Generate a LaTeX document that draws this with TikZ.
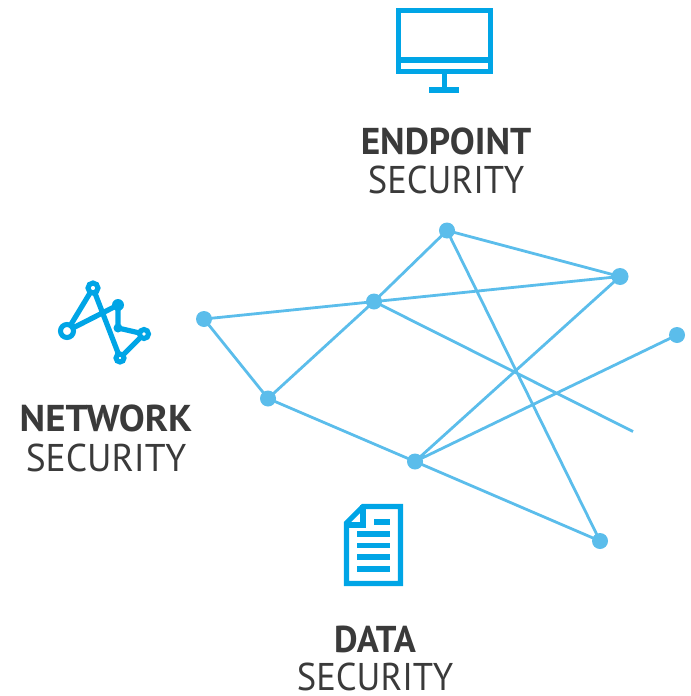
\documentclass[tikz,border=0pt]{standalone}
\usepackage{fontspec}
\setmainfont{PT Sans}
\definecolor{net}{HTML}{5BBDEB}
\definecolor{icon}{HTML}{00A5E6}
\definecolor{ink}{HTML}{3A3A3A}
\tikzset{
  dot/.style={circle,fill=net,inner sep=0pt,minimum size=#1},
  link/.style={draw=net,line width=2.1pt},
  iconline/.style={draw=icon,line width=3.9pt},
  ring/.style={circle,draw=icon,fill=white,line width=3.8pt,inner sep=0pt,minimum size=#1},
  solid dot/.style={circle,fill=icon,inner sep=0pt,minimum size=#1},
  heavy/.style={text=ink,inner sep=0pt,font=\fontsize{28}{28}\selectfont\bfseries},
  light/.style={text=ink,inner sep=0pt,font=\fontsize{29}{29}\selectfont},
}
\begin{document}
\begin{tikzpicture}[x=0.75pt,y=-0.75pt]
\useasboundingbox (0,0) rectangle (690,696);
% network
\node[dot=16*0.75pt] (a) at (447,230.5) {};
\node[dot=17*0.75pt] (b) at (620,276.5) {};
\node[dot=16*0.75pt] (c) at (374,301.5) {};
\node[dot=16*0.75pt] (d) at (204,319) {};
\node[dot=16*0.75pt] (e) at (677,335) {};
\node[dot=16*0.75pt] (f) at (268,398.5) {};
\node[dot=16*0.75pt] (g) at (415,461.5) {};
\node[dot=16*0.75pt] (h) at (600,541) {};
\coordinate (end) at (633,431.5);
\draw[link] (a.center)--(b.center) (a.center)--(c.center) (a.center)--(h.center)
  (d.center)--(b.center) (c.center)--(f.center) (d.center)--(f.center)
  (f.center)--(g.center) (g.center)--(h.center) (g.center)--(b.center)
  (g.center)--(e.center) (c.center)--(end);
% monitor
\draw[iconline] (398.5,10.5) rectangle (490.5,71.5);
\draw[iconline] (398.5,60) -- (490.5,60);
\draw[iconline] (444.5,74) -- (444.5,90);
\draw[iconline] (429,90) -- (459,90);
% network icon
\coordinate (n1) at (67,331);\coordinate (n2) at (93,288);\coordinate (n3) at (120,358);
\coordinate (n4) at (144,334);\coordinate (n5) at (118,328);\coordinate (n6) at (118,305);
\draw[iconline,line join=round] (n1)--(n2)--(n3)--(n4)--(n5)--(n6)--cycle;
\node[ring=13*0.75pt] at (n1) {};
\node[ring=10*0.75pt] at (n2) {};
\node[ring=8*0.75pt] at (n3) {};
\node[ring=9*0.75pt] at (n4) {};
\node[solid dot=12*0.75pt] at (n6) {};
\node[solid dot=9*0.75pt] at (n5) {};
% document icon
\draw[iconline,line join=miter] (363,506.5) -- (400.5,506.5) -- (400.5,583.5) -- (346.5,583.5) -- (346.5,523) -- cycle;
\draw[iconline] (363,505) -- (363,525) -- (345,525);
\draw[iconline] (374,522)--(390,522);
\draw[iconline] (357,534)--(390,534);
\draw[iconline] (357,545.5)--(390,545.5);
\draw[iconline] (357,557)--(390,557);
\draw[iconline] (357,569)--(390,569);
% labels
\node[heavy,xscale=1.0,anchor=base] (l1) at (446,154) {ENDPOINT};
\node[light,xscale=.945,anchor=base] (l2) at (446,193) {SECURITY};
\node[heavy,xscale=1.04,anchor=base] (l3) at (106,431) {NETWORK};
\node[light,xscale=.97,anchor=base] (l4) at (106,471) {SECURITY};
\node[heavy,xscale=.975,anchor=base] (l5) at (375,652) {DATA};
\node[light,xscale=.945,anchor=base] (l6) at (375,690) {SECURITY};
\end{tikzpicture}
\end{document}
